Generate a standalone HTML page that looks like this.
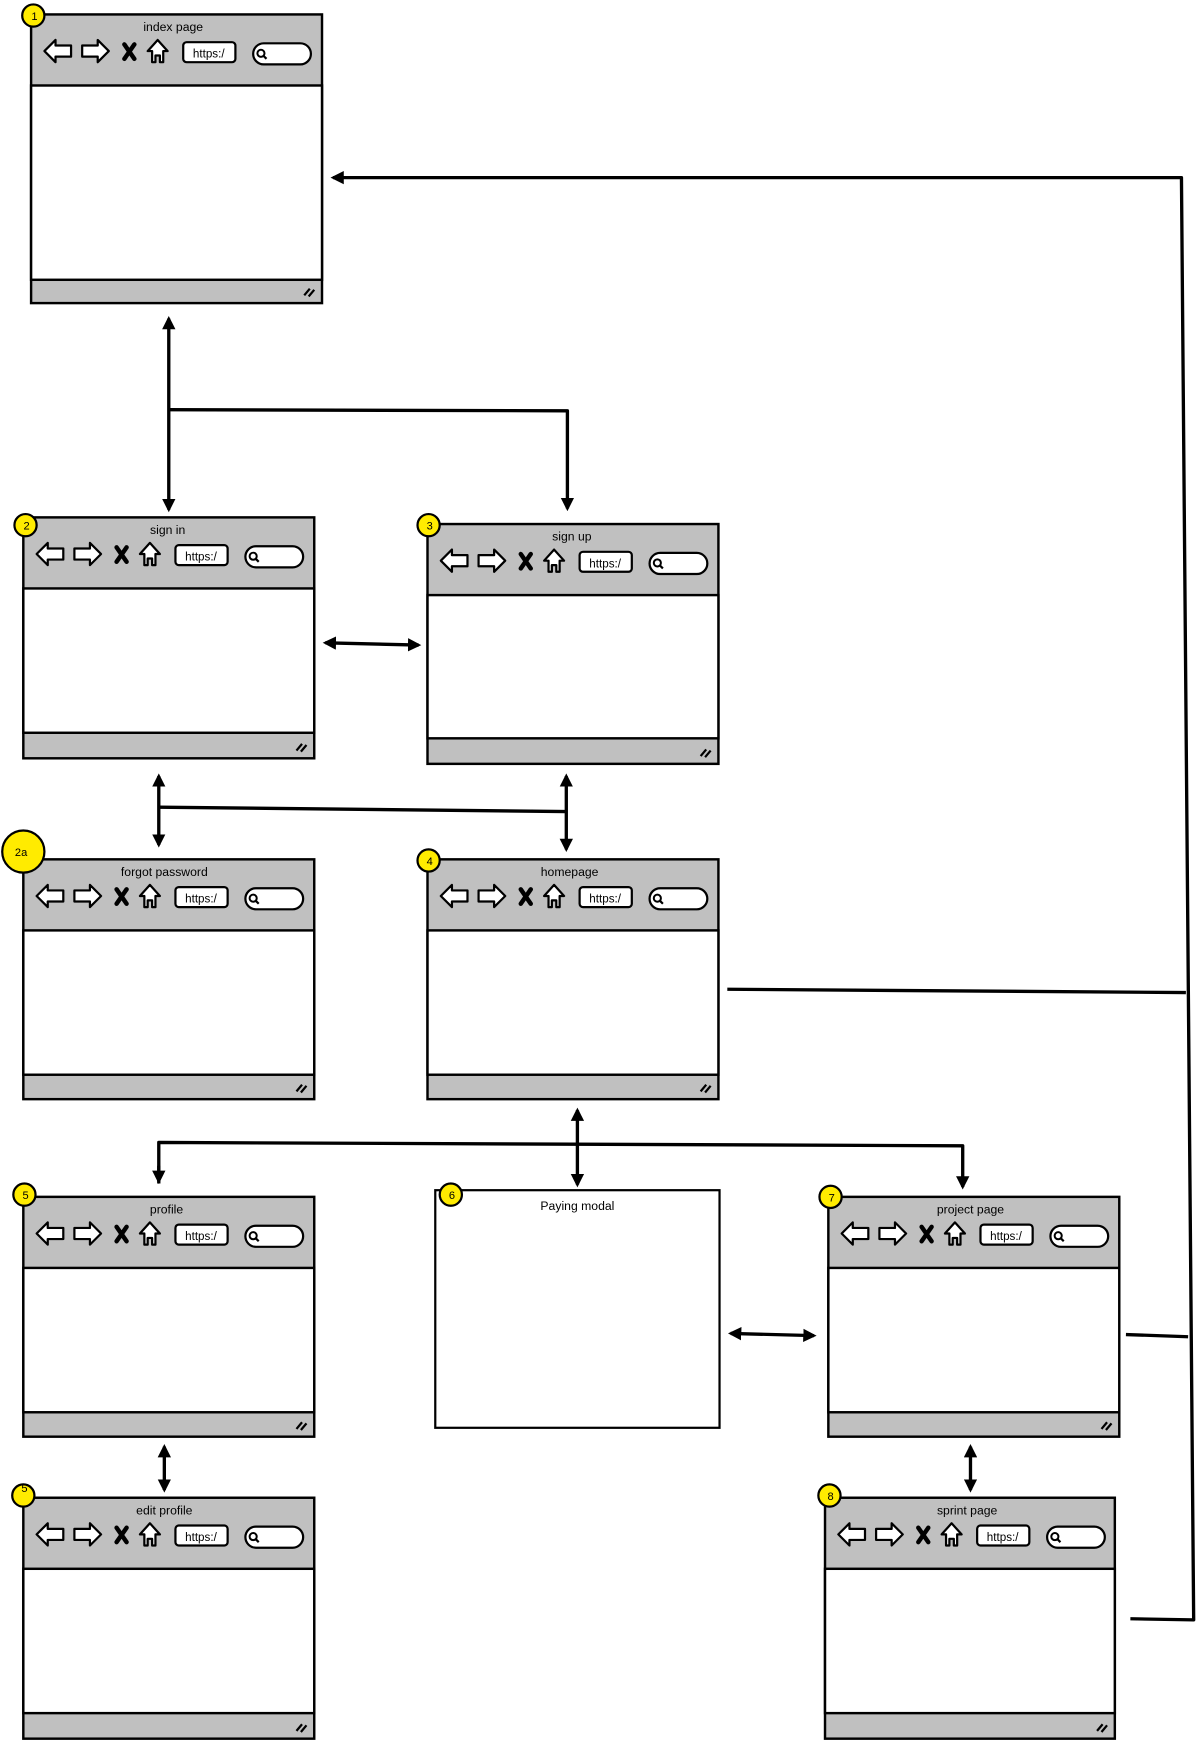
<!DOCTYPE html>
<html><head><meta charset="utf-8"><style>html,body{margin:0;padding:0;background:#fff}svg{display:block}text{font-family:"Liberation Sans",sans-serif;fill:#000}</style></head>
<body>
<svg width="1197" height="1742" viewBox="0 0 1078 1569" preserveAspectRatio="none" xmlns="http://www.w3.org/2000/svg">
<defs>
<symbol id="ic" overflow="visible">
<g stroke="#000" stroke-width="2" fill="#fff" stroke-linejoin="round">
<polygon points="12,33 22,23 22,28 36,28 36,38 22,38 22,43"/>
<polygon points="46,28 60,28 60,23 70,33 60,43 60,38 46,38"/>
<polygon points="105,33 114,23 123,33 119,33 119,43 116,43 116,37 112,37 112,43 109,43 109,33"/>
<rect x="137" y="25" width="47" height="18" rx="3"/>
<rect x="200" y="26" width="52" height="19" rx="9.5"/>
<circle cx="207" cy="35" r="3.2" stroke-width="1.8"/>
<line x1="209" y1="37" x2="212" y2="40"/>
</g>
<g stroke="#000" stroke-width="4" stroke-linecap="round"><line x1="84" y1="27" x2="93" y2="40"/><line x1="93" y1="27" x2="84" y2="40"/></g>
</symbol>
<marker id="a" viewBox="0 0 10 10" refX="8" refY="5" markerWidth="4" markerHeight="4" orient="auto-start-reverse"><path d="M0,0 L10,5 L0,10 Z" fill="#000"/></marker>
</defs>

<g font-size="11" text-anchor="middle">
<!-- browser 1 -->
<g transform="translate(28,13)"><rect x="0" y="0" width="262" height="260" fill="#c0c0c0" stroke="#000" stroke-width="2.2"/><rect x="0" y="64" width="262" height="175" fill="#fff" stroke="#000" stroke-width="2.2"/><text x="128" y="15">index page</text><use href="#ic"/><text x="160" y="39" font-size="10.5">https:/</text><path d="M246,253 l5,-6 M250,254 l5,-6" stroke="#000" stroke-width="2"/></g>
<!-- 2 -->
<g transform="translate(21,466)"><rect width="262" height="217" fill="#c0c0c0" stroke="#000" stroke-width="2.2"/><rect y="64" width="262" height="130" fill="#fff" stroke="#000" stroke-width="2.2"/><text x="130" y="15">sign in</text><use href="#ic"/><text x="160" y="39" font-size="10.5">https:/</text><path d="M246,210 l5,-6 M250,211 l5,-6" stroke="#000" stroke-width="2"/></g>
<!-- 3 -->
<g transform="translate(385,472)"><rect width="262" height="216" fill="#c0c0c0" stroke="#000" stroke-width="2.2"/><rect y="64" width="262" height="129" fill="#fff" stroke="#000" stroke-width="2.2"/><text x="130" y="15">sign up</text><use href="#ic"/><text x="160" y="39" font-size="10.5">https:/</text><path d="M246,209 l5,-6 M250,210 l5,-6" stroke="#000" stroke-width="2"/></g>
<!-- 2a -->
<g transform="translate(21,774)"><rect width="262" height="216" fill="#c0c0c0" stroke="#000" stroke-width="2.2"/><rect y="64" width="262" height="130" fill="#fff" stroke="#000" stroke-width="2.2"/><text x="127" y="15">forgot password</text><use href="#ic"/><text x="160" y="39" font-size="10.5">https:/</text><path d="M246,209 l5,-6 M250,210 l5,-6" stroke="#000" stroke-width="2"/></g>
<!-- 4 -->
<g transform="translate(385,774)"><rect width="262" height="216" fill="#c0c0c0" stroke="#000" stroke-width="2.2"/><rect y="64" width="262" height="130" fill="#fff" stroke="#000" stroke-width="2.2"/><text x="128" y="15">homepage</text><use href="#ic"/><text x="160" y="39" font-size="10.5">https:/</text><path d="M246,209 l5,-6 M250,210 l5,-6" stroke="#000" stroke-width="2"/></g>
<!-- 5 profile -->
<g transform="translate(21,1078)"><rect width="262" height="216" fill="#c0c0c0" stroke="#000" stroke-width="2.2"/><rect y="64" width="262" height="130" fill="#fff" stroke="#000" stroke-width="2.2"/><text x="129" y="15">profile</text><use href="#ic"/><text x="160" y="39" font-size="10.5">https:/</text><path d="M246,209 l5,-6 M250,210 l5,-6" stroke="#000" stroke-width="2"/></g>
<!-- 6 modal -->
<g transform="translate(392,1072)"><rect width="256" height="214" fill="#fff" stroke="#000" stroke-width="2"/><text x="128" y="18">Paying modal</text></g>
<!-- 7 project -->
<g transform="translate(746,1078)"><rect width="262" height="216" fill="#c0c0c0" stroke="#000" stroke-width="2.2"/><rect y="64" width="262" height="130" fill="#fff" stroke="#000" stroke-width="2.2"/><text x="128" y="15">project page</text><use href="#ic"/><text x="160" y="39" font-size="10.5">https:/</text><path d="M246,209 l5,-6 M250,210 l5,-6" stroke="#000" stroke-width="2"/></g>
<!-- edit profile -->
<g transform="translate(21,1349)"><rect width="262" height="217" fill="#c0c0c0" stroke="#000" stroke-width="2.2"/><rect y="64" width="262" height="130" fill="#fff" stroke="#000" stroke-width="2.2"/><text x="127" y="15">edit profile</text><use href="#ic"/><text x="160" y="39" font-size="10.5">https:/</text><path d="M246,210 l5,-6 M250,211 l5,-6" stroke="#000" stroke-width="2"/></g>
<!-- 8 sprint -->
<g transform="translate(743,1349)"><rect width="261" height="217" fill="#c0c0c0" stroke="#000" stroke-width="2.2"/><rect y="64" width="261" height="130" fill="#fff" stroke="#000" stroke-width="2.2"/><text x="128" y="15">sprint page</text><use href="#ic"/><text x="160" y="39" font-size="10.5">https:/</text><path d="M245,210 l5,-6 M249,211 l5,-6" stroke="#000" stroke-width="2"/></g>
</g>

<!-- badges -->
<g stroke="#000" stroke-width="2" fill="#ffeb00" font-size="10" text-anchor="middle">
<circle cx="30" cy="14" r="10"/><text x="31" y="18" stroke="none">1</text>
<circle cx="23" cy="473" r="10"/><text x="24" y="477" stroke="none">2</text>
<circle cx="386" cy="473" r="10"/><text x="387" y="477" stroke="none">3</text>
<circle cx="21" cy="767" r="19"/><text x="19" y="771" stroke="none">2a</text>
<circle cx="386" cy="775" r="10"/><text x="387" y="779" stroke="none">4</text>
<circle cx="22" cy="1076" r="10"/><text x="23" y="1080" stroke="none">5</text>
<circle cx="406" cy="1076" r="10"/><text x="407" y="1080" stroke="none">6</text>
<circle cx="748" cy="1078" r="10"/><text x="749" y="1082" stroke="none">7</text>
<circle cx="21" cy="1347" r="10"/><text x="22" y="1344" stroke="none">5</text>
<circle cx="747" cy="1347" r="10"/><text x="748" y="1351" stroke="none">8</text>
</g>

<!-- connectors -->
<g stroke="#000" stroke-width="3" fill="none" stroke-linejoin="round">
<line x1="152" y1="287" x2="152" y2="459" marker-start="url(#a)" marker-end="url(#a)"/>
<polyline points="152,369 511,370 511,458" marker-end="url(#a)"/>
<polyline points="1018,1458 1075,1459 1064,160 300,160" marker-end="url(#a)"/>
<line x1="655" y1="891" x2="1068" y2="894"/>
<line x1="1014" y1="1202" x2="1070" y2="1204"/>
<line x1="293" y1="579" x2="377" y2="581" marker-start="url(#a)" marker-end="url(#a)"/>
<line x1="143" y1="699" x2="143" y2="761" marker-start="url(#a)" marker-end="url(#a)"/>
<line x1="143" y1="727" x2="510" y2="731"/>
<line x1="510" y1="699" x2="510" y2="765" marker-start="url(#a)" marker-end="url(#a)"/>
<line x1="520" y1="1000" x2="520" y2="1067" marker-start="url(#a)" marker-end="url(#a)"/>
<polyline points="143,1066 143,1029 867,1032 867,1069" marker-end="url(#a)"/>
<line x1="143" y1="1050" x2="143" y2="1064" marker-end="url(#a)"/>
<line x1="658" y1="1201" x2="733" y2="1203" marker-start="url(#a)" marker-end="url(#a)"/>
<line x1="148" y1="1303" x2="148" y2="1342" marker-start="url(#a)" marker-end="url(#a)"/>
<line x1="874" y1="1303" x2="874" y2="1342" marker-start="url(#a)" marker-end="url(#a)"/>
</g>
</svg>
</body></html>
